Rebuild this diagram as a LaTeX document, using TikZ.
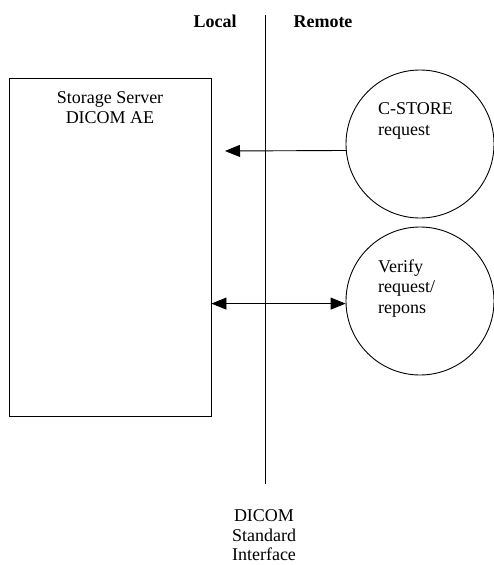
\documentclass[tikz,border=0pt]{standalone}
\usepackage{fontspec}
\setmainfont{Liberation Serif}
\usetikzlibrary{arrows.meta}
\begin{document}
\begin{tikzpicture}[x=1pt,y=-1pt,
  every node/.style={font=\fontsize{18}{20.5}\selectfont},
  rule/.style={line width=0.9pt},
  bubble/.style={circle,draw,line width=0.9pt,minimum size=148pt,inner sep=0pt},
  label/.style={anchor=base,inner sep=0pt},
  tip/.tip={Triangle[length=15pt,width=12pt]},
  flow/.style={line width=0.9pt,-tip},
  duplex/.style={line width=0.9pt,tip-tip}]
\useasboundingbox (0,0) rectangle (494,565);

% local application entity
\node[draw,rule,minimum width=202pt,minimum height=338pt,inner sep=0pt] (server) at (110,247) {};
\node[label] (srvA) at (110,103) {Storage Server};
\node[label] (srvB) at (110,123.5) {DICOM AE};

% interface boundary
\coordinate (ifTop) at (265,15);
\coordinate (ifBot) at (265,484);
\draw[rule] (ifTop) -- (ifBot);
\node[label,font=\fontsize{18}{20.5}\selectfont\bfseries] (local) at (215,27) {Local};
\node[label,font=\fontsize{18}{20.5}\selectfont\bfseries] (remote) at (323,27) {Remote};

% remote activities
\node[bubble] (cstore) at (420,144) {};
\node[label,anchor=base west] (csA) at (378,114) {C-STORE};
\node[label,anchor=base west] (csB) at (378,135) {request};

\node[bubble] (verify) at (420,301) {};
\node[label,anchor=base west] (vA) at (378,272) {Verify};
\node[label,anchor=base west] (vB) at (378,292.5) {request/};
\node[label,anchor=base west] (vC) at (378,313) {repons};

% associations
\coordinate (storeTip) at (225,151);
\draw[flow] (cstore.185.4) -- (storeTip);
\draw[duplex] (server.east |- verify.182.7) -- (verify.182.7);

% interface caption
\node[label] (capA) at (264,521) {DICOM};
\node[label] (capB) at (264,541) {Standard};
\node[label] (capC) at (264,560.5) {Interface};
\end{tikzpicture}
\end{document}
